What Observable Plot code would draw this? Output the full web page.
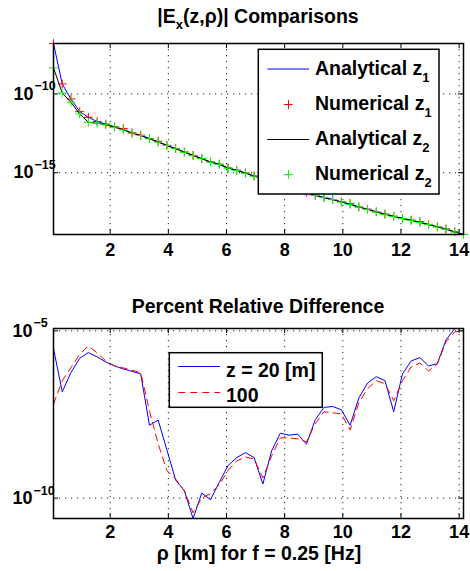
<!DOCTYPE html>
<html><head><meta charset="utf-8">
<script src="https://cdn.jsdelivr.net/npm/d3@7"></script>
<script src="https://cdn.jsdelivr.net/npm/@observablehq/plot@0.6"></script>
<style>
html,body{margin:0;padding:0;background:#fff;}
#page{position:relative;width:470px;height:571px;overflow:hidden;}
#page > svg{position:absolute;left:0;}
</style></head><body><div id="page"></div>
<script>
// ---- data (values are log10 of |E| and of % difference) ----
const rho = [0.05,0.35,0.65,0.95,1.25,1.55,1.85,2.15,2.45,2.75,3.05,3.35,3.65,3.95,4.25,4.55,4.85,5.15,5.45,5.75,6.05,6.35,6.65,6.95,7.25,7.55,7.85,8.15,8.45,8.75,9.05,9.35,9.65,9.95,10.25,10.55,10.85,11.15,11.45,11.75,12.05,12.35,12.65,12.95,13.25,13.55,13.85,14.15];

const logAnalyticalZ1 = [-6.80,-9.37,-10.32,-11.12,-11.48,-11.75,-11.91,-12.08,-12.24,-12.47,-12.62,-12.83,-13.04,-13.26,-13.46,-13.68,-13.90,-14.10,-14.31,-14.45,-14.69,-14.83,-15.01,-15.20,-15.36,-15.54,-15.70,-15.87,-16.05,-16.23,-16.43,-16.57,-16.70,-16.84,-16.99,-17.17,-17.31,-17.48,-17.62,-17.76,-17.90,-18.00,-18.14,-18.28,-18.43,-18.57,-18.75,-18.91];
const logNumericalZ1 = [-6.80,-9.37,-10.32,-11.12,-11.48,-11.75,-11.91,-12.08,-12.20,-12.47,-12.62,-12.83,-13.00,-13.26,-13.46,-13.68,-13.90,-14.10,-14.31,-14.45,-14.69,-14.83,-15.01,-15.20,-15.36,-15.54,-15.70,-15.87,-16.05,-16.23,-16.43,-16.57,-16.70,-16.84,-16.95,-17.17,-17.31,-17.48,-17.62,-17.76,-17.90,-18.00,-18.10,-18.28,-18.43,-18.57,-18.75,-18.91];
const logAnalyticalZ2 = [-8.35,-9.94,-10.53,-11.27,-11.80,-11.86,-11.96,-12.11,-12.28,-12.49,-12.64,-12.85,-13.06,-13.27,-13.48,-13.70,-13.91,-14.11,-14.33,-14.47,-14.71,-14.85,-15.03,-15.22,-15.38,-15.55,-15.72,-15.89,-16.06,-16.25,-16.44,-16.58,-16.71,-16.86,-17.01,-17.18,-17.32,-17.49,-17.64,-17.77,-17.91,-18.02,-18.16,-18.29,-18.44,-18.58,-18.76,-18.92];
const logNumericalZ2 = [-8.35,-9.94,-10.53,-11.27,-11.80,-11.86,-11.96,-12.11,-12.28,-12.49,-12.64,-12.85,-13.06,-13.27,-13.48,-13.70,-13.91,-14.11,-14.33,-14.47,-14.71,-14.85,-15.03,-15.22,-15.38,-15.55,-15.72,-15.89,-16.06,-16.25,-16.44,-16.58,-16.71,-16.86,-17.01,-17.18,-17.32,-17.49,-17.64,-17.77,-17.91,-18.02,-18.16,-18.29,-18.44,-18.58,-18.76,-18.92];

const logDiffZ20 = [-5.53,-6.82,-6.25,-5.82,-5.65,-5.78,-5.93,-6.05,-6.14,-6.21,-6.29,-7.82,-7.67,-8.56,-9.46,-9.78,-10.61,-9.85,-10.05,-9.53,-9.03,-8.79,-8.64,-8.79,-9.58,-8.59,-8.06,-8.12,-8.09,-8.39,-7.66,-7.29,-7.26,-7.36,-7.82,-7.01,-6.56,-6.37,-6.49,-7.42,-6.29,-5.90,-5.80,-6.05,-5.98,-5.27,-4.93,-4.93];
const logDiffZ100 = [-7.19,-6.49,-6.10,-5.70,-5.45,-5.66,-5.90,-6.05,-6.11,-6.18,-6.25,-7.39,-8.38,-9.18,-9.43,-9.78,-10.44,-10.00,-9.87,-9.60,-9.18,-8.89,-8.77,-8.83,-9.40,-8.74,-8.20,-8.20,-8.23,-8.32,-7.78,-7.42,-7.45,-7.48,-7.96,-7.15,-6.73,-6.49,-6.58,-7.09,-6.49,-6.08,-5.96,-6.20,-5.99,-5.33,-5.03,-5.00];

const xTicks = [2,4,6,8,10,12,14];
const topYTicks = [1e-15, 1e-10];
const topYTickExp = ["\u221215", "\u221210"];
const botYTicks = [1e-10, 1e-5];
const botYTickExp = ["\u221210", "\u22125"];

const topTitle = ["|E", "x", "(z,\u03c1)| Comparisons"];
const botTitle = "Percent Relative Difference";
const xLabel = "\u03c1 [km] for f = 0.25 [Hz]";
const topLegend = [["Analytical z", "1"], ["Numerical z", "1"], ["Analytical z", "2"], ["Numerical z", "2"]];
const botLegend = ["z = 20 [m]", "100"];

// ---- build tables ----
const topRows = rho.map((r, i) => ({rho: r, az1: 10 ** logAnalyticalZ1[i], nz1: 10 ** logNumericalZ1[i], az2: 10 ** logAnalyticalZ2[i], nz2: 10 ** logNumericalZ2[i]}));
const botRows = rho.map((r, i) => ({rho: r, d20: 10 ** logDiffZ20[i], d100: 10 ** logDiffZ100[i]}));

const FONT = '"Liberation Sans", Arial, Helvetica, sans-serif';
const page = document.getElementById("page");
const GRID = {stroke: "#222", strokeWidth: 1, strokeDasharray: "1.2,4.8"};

function panel({height, mt, mb, ml, mr, yDomain, yTicks, yExp, padX, baseDx, marks}) {
  const W = 470;
  const innerW = W - ml - mr, innerH = height - mt - mb;
  return Plot.plot({
    width: W, height,
    marginTop: mt, marginBottom: mb, marginLeft: ml, marginRight: mr,
    style: {fontFamily: FONT, fontWeight: "bold", fontSize: "18px", background: "transparent", color: "#000"},
    x: {type: "linear", domain: d3.extent(rho)},
    y: {type: "log", domain: yDomain, axis: null},
    marks: [
      Plot.ruleX(xTicks, GRID),
      Plot.ruleY(yTicks, GRID),
      ...marks,
      Plot.ruleX(xTicks, {insetTop: innerH - 5, stroke: "#000"}),
      Plot.ruleX(xTicks, {insetBottom: innerH - 5, stroke: "#000"}),
      Plot.ruleY(yTicks, {insetRight: innerW - 5, stroke: "#000"}),
      Plot.ruleY(yTicks, {insetLeft: innerW - 5, stroke: "#000"}),
      Plot.frame({stroke: "#000", strokeWidth: 1.5}),
      Plot.axisX({ticks: xTicks, tickSize: 0, tickPadding: padX, label: null, fontSize: 18, tickFormat: d => String(d)}),
      Plot.text(yTicks, {y: d => d, frameAnchor: "left", text: () => "10", textAnchor: "end", dx: baseDx, fontSize: 18}),
      Plot.text(yTicks, {y: d => d, frameAnchor: "left", text: (d, i) => yExp[i], textAnchor: "start", dx: baseDx + 1, dy: -7.5, fontSize: 12.5})
    ]
  });
}

const topValues = [...logAnalyticalZ1, ...logNumericalZ1, ...logAnalyticalZ2, ...logNumericalZ2].map(v => 10 ** v);
const topPlot = panel({
  height: 265, mt: 43, mb: 31, ml: 53, mr: 7,
  yDomain: d3.extent(topValues), yTicks: topYTicks, yExp: topYTickExp, padX: 9, baseDx: -20,
  marks: [
    Plot.line(topRows, {x: "rho", y: "az1", stroke: "#0000ff", strokeWidth: 1}),
    Plot.dot(topRows, {x: "rho", y: "nz1", symbol: "plus", stroke: "#ff0000", r: 2.9, strokeWidth: 1}),
    Plot.line(topRows, {x: "rho", y: "az2", stroke: "#000000", strokeWidth: 1}),
    Plot.dot(topRows, {x: "rho", y: "nz2", symbol: "plus", stroke: "#00ff00", r: 2.9, strokeWidth: 1})
  ]
});
topPlot.style.top = "0px";
page.appendChild(topPlot);

const botValues = [...logDiffZ20, ...logDiffZ100].map(v => 10 ** v);
const botPlot = panel({
  height: 291, mt: 48, mb: 53, ml: 53, mr: 7,
  yDomain: d3.extent(botValues), yTicks: botYTicks, yExp: botYTickExp, padX: 7, baseDx: -21,
  marks: [
    Plot.line(botRows, {x: "rho", y: "d20", stroke: "#0000ff", strokeWidth: 1}),
    Plot.line(botRows, {x: "rho", y: "d100", stroke: "#ff0000", strokeWidth: 1, strokeDasharray: "7,5"})
  ]
});
botPlot.style.top = "280px";
page.appendChild(botPlot);

// ---- overlay: titles, x label, legends ----
const ov = d3.create("svg").attr("width", 470).attr("height", 571)
  .style("top", "0px").style("font-family", FONT).style("font-weight", "bold");

const t1 = ov.append("text").attr("x", 258).attr("y", 22.7).attr("text-anchor", "middle").attr("font-size", 19.5);
t1.append("tspan").text(topTitle[0]);
t1.append("tspan").attr("font-size", 13).attr("dy", 6).text(topTitle[1]);
t1.append("tspan").attr("font-size", 19.5).attr("dy", -6).text(topTitle[2]);

ov.append("text").attr("x", 258).attr("y", 313.3).attr("text-anchor", "middle").attr("font-size", 19.5).text(botTitle);
ov.append("text").attr("x", 259).attr("y", 560).attr("text-anchor", "middle").attr("font-size", 19.5).text(xLabel);

// top legend
ov.append("rect").attr("x", 258.3).attr("y", 49.3).attr("width", 180.7).attr("height", 144.7)
  .attr("fill", "#fff").attr("stroke", "#000").attr("stroke-width", 1.5);
const rowY = [69, 104.5, 139.5, 174.5];
const sw = [
  g => g.append("line").attr("x1", 267.3).attr("x2", 309).attr("stroke", "#0000ff"),
  g => g.append("path").attr("d", "M284,0H292.6M288.5,-4.3V4.3").attr("stroke", "#ff0000"),
  g => g.append("line").attr("x1", 267.3).attr("x2", 309).attr("stroke", "#000"),
  g => g.append("path").attr("d", "M284,0H292.6M288.5,-4.3V4.3").attr("stroke", "#00ff00")
];
topLegend.forEach(([label, sub], i) => {
  const g = ov.append("g").attr("transform", `translate(0,${rowY[i]})`);
  sw[i](g);
  const t = g.append("text").attr("x", 315).attr("y", i === 0 ? 6 : 5.5).attr("font-size", 19.5);
  t.append("tspan").text(label);
  t.append("tspan").attr("font-size", 13).attr("dy", 7).text(sub);
});

// bottom legend
ov.append("rect").attr("x", 169.3).attr("y", 352.7).attr("width", 153).attr("height", 54.6)
  .attr("fill", "#fff").attr("stroke", "#000").attr("stroke-width", 1.5);
ov.append("line").attr("x1", 178.3).attr("x2", 220).attr("y1", 366.5).attr("y2", 366.5).attr("stroke", "#0000ff");
ov.append("line").attr("x1", 178.3).attr("x2", 220).attr("y1", 392.5).attr("y2", 392.5).attr("stroke", "#ff0000").attr("stroke-dasharray", "7,5");
ov.append("text").attr("x", 226).attr("y", 376.6).attr("font-size", 19.5).text(botLegend[0]);
ov.append("text").attr("x", 226).attr("y", 401.7).attr("font-size", 19.5).text(botLegend[1]);

page.appendChild(ov.node());
</script></body></html>
